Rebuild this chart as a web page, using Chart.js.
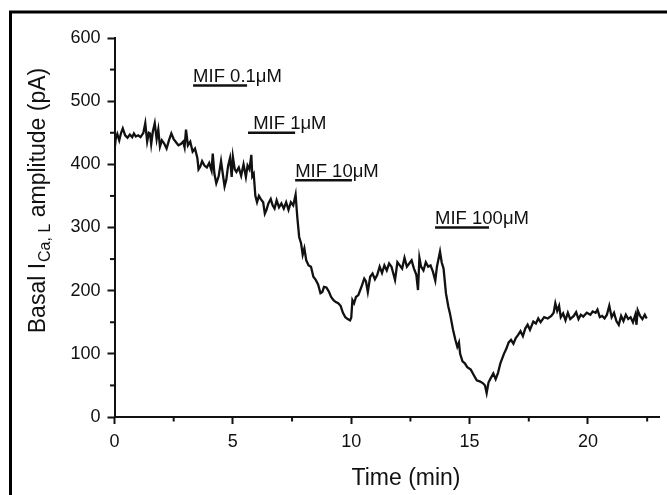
<!DOCTYPE html>
<html><head><meta charset="utf-8">
<script src="https://cdn.jsdelivr.net/npm/chart.js@4"></script>
<style>html,body{margin:0;padding:0;background:#fff;}#wrap{width:667px;height:495px;position:relative;}</style>
</head><body><div id="wrap"><canvas id="c" width="667" height="495"></canvas></div>
<script>
// ---- data ----
const timeMin = [0.00,0.05,0.12,0.20,0.28,0.35,0.45,0.55,0.65,0.75,0.82,0.90,1.00,1.10,1.22,1.30,1.38,1.45,1.50,1.55,1.62,1.70,1.78,1.85,1.92,2.00,2.10,2.20,2.30,2.40,2.50,2.60,2.70,2.80,2.90,2.96,3.02,3.10,3.20,3.30,3.40,3.50,3.55,3.62,3.70,3.80,3.90,4.00,4.10,4.15,4.22,4.30,4.40,4.50,4.60,4.65,4.72,4.80,4.88,4.95,5.00,5.08,5.15,5.25,5.35,5.45,5.55,5.62,5.70,5.78,5.82,5.88,5.95,6.02,6.10,6.18,6.28,6.35,6.42,6.50,6.60,6.68,6.76,6.85,6.95,7.05,7.15,7.25,7.35,7.45,7.55,7.65,7.72,7.80,7.88,7.95,8.02,8.10,8.20,8.30,8.40,8.50,8.60,8.70,8.78,8.85,8.95,9.05,9.15,9.25,9.35,9.45,9.55,9.65,9.75,9.85,9.95,10.00,10.05,10.12,10.20,10.30,10.42,10.55,10.62,10.70,10.80,10.90,11.00,11.10,11.20,11.30,11.40,11.50,11.60,11.70,11.85,11.95,12.05,12.15,12.25,12.35,12.45,12.55,12.65,12.75,12.82,12.88,12.95,13.05,13.15,13.25,13.35,13.45,13.55,13.62,13.75,13.82,13.90,14.00,14.10,14.17,14.30,14.40,14.48,14.55,14.60,14.70,14.80,14.90,15.05,15.15,15.30,15.45,15.58,15.65,15.72,15.80,15.90,16.00,16.10,16.20,16.30,16.45,16.55,16.65,16.75,16.85,16.95,17.05,17.15,17.25,17.35,17.45,17.55,17.69,17.80,17.90,18.00,18.15,18.30,18.45,18.55,18.62,18.70,18.78,18.85,18.95,19.05,19.15,19.25,19.40,19.50,19.60,19.70,19.80,19.95,20.10,20.20,20.32,20.40,20.50,20.60,20.70,20.80,20.90,21.00,21.10,21.20,21.30,21.40,21.50,21.60,21.70,21.80,21.90,22.00,22.05,22.10,22.20,22.30,22.40,22.48];
const currentPA = [422,440,448,438,450,457,446,442,447,443,449,444,446,443,450,465,436,450,449,432,452,465,440,455,428,438,433,425,438,449,440,435,430,432,436,427,455,430,436,420,425,410,392,396,405,398,395,402,390,417,385,370,381,405,378,365,375,398,410,380,412,392,388,395,382,400,380,398,392,415,381,385,350,340,350,345,340,322,328,338,345,335,330,343,332,338,330,340,328,340,335,352,317,285,275,257,267,248,240,238,222,217,210,196,198,206,205,199,190,185,182,180,176,165,158,155,153,157,185,180,190,193,205,219,215,198,222,227,218,225,238,228,240,232,243,238,217,245,240,235,252,238,243,248,235,225,201,252,238,232,245,238,240,230,216,238,262,245,235,196,175,164,138,122,111,118,100,88,85,79,75,68,58,56,53,50,38,55,62,69,60,70,85,100,108,118,122,116,125,130,136,128,140,146,138,151,148,156,150,158,156,160,165,180,168,176,158,164,153,165,155,160,166,155,162,159,165,162,167,165,170,158,160,156,162,176,158,165,152,146,160,152,162,155,158,150,162,146,169,160,155,162,156];
const xTicks = [0,5,10,15,20];
const xMinorTicks = [2.5,7.5,12.5,17.5,22.5];
const yTicks = [0,100,200,300,400,500,600];
const yMinorTicks = [50,150,250,350,450,550];
const drugLabels = ['MIF 0.1\u03bcM',' MIF 1\u03bcM','MIF 10\u03bcM','MIF 100\u03bcM'];
const drugStart = [3.32,5.64,7.63,13.54];
const drugEnd = [5.60,7.63,10.03,15.82];
const drugLevel = [525,450,375,300];
const xTitle = 'Time (min)';
const yTitleMain = 'Basal I';
const yTitleSub = 'Ca, L';
const yTitleRest = ' amplitude (pA)';

// ---- styling ----
const FONT = '"Liberation Sans", Arial, sans-serif';
const INK = '#111';

const traceData = timeMin.map((t, i) => ({x: t, y: currentPA[i]}));
const barSets = drugLabels.map((lab, i) => ({
  label: lab,
  data: [{x: drugStart[i], y: drugLevel[i]}, {x: drugEnd[i], y: drugLevel[i]}],
  borderColor: INK, borderWidth: 2.5, pointRadius: 0, fill: false
}));

const decor = {
  id: 'decor',
  beforeDraw(chart) {
    const ctx = chart.ctx;
    ctx.save();
    ctx.fillStyle = '#fff';
    ctx.fillRect(0, 0, chart.width, chart.height);
    ctx.strokeStyle = '#000';
    ctx.lineWidth = 3;
    ctx.beginPath();
    ctx.moveTo(10.5, 495);
    ctx.lineTo(10.5, 12);
    ctx.lineTo(667, 12);
    ctx.stroke();
    ctx.restore();
  },
  afterDraw(chart) {
    const ctx = chart.ctx;
    const xs = chart.scales.x, ys = chart.scales.y;
    const area = chart.chartArea;
    ctx.save();
    // minor ticks
    ctx.strokeStyle = INK; ctx.lineWidth = 2;
    xMinorTicks.forEach(v => {
      const px = xs.getPixelForValue(v);
      ctx.beginPath(); ctx.moveTo(px, area.bottom); ctx.lineTo(px, area.bottom + 4.5); ctx.stroke();
    });
    yMinorTicks.forEach(v => {
      const py = ys.getPixelForValue(v);
      ctx.beginPath(); ctx.moveTo(area.left, py); ctx.lineTo(area.left - 4.5, py); ctx.stroke();
    });
    // drug labels
    ctx.fillStyle = INK;
    ctx.font = '18.5px ' + FONT;
    ctx.textBaseline = 'alphabetic';
    ctx.textAlign = 'left';
    drugLabels.forEach((lab, i) => {
      ctx.fillText(lab, xs.getPixelForValue(drugStart[i]), ys.getPixelForValue(drugLevel[i]) - 3.5);
    });
    // x title
    ctx.font = '23px ' + FONT;
    ctx.textAlign = 'center';
    ctx.fillText(xTitle, 406, 485);
    // y title with subscript
    ctx.translate(44.5, 201);
    ctx.rotate(-Math.PI / 2);
    ctx.textAlign = 'left';
    const mainF = '23px ' + FONT, subF = '16px ' + FONT;
    ctx.font = mainF; const w1 = ctx.measureText(yTitleMain).width; const w3 = ctx.measureText(yTitleRest).width;
    ctx.font = subF; const w2 = ctx.measureText(yTitleSub).width;
    let x0 = -(w1 + w2 + w3) / 2;
    ctx.font = mainF; ctx.fillText(yTitleMain, x0, 0);
    ctx.font = subF; ctx.fillText(yTitleSub, x0 + w1 + 1, 5);
    ctx.font = mainF; ctx.fillText(yTitleRest, x0 + w1 + w2 + 1, 0);
    ctx.restore();
  }
};

new Chart(document.getElementById('c'), {
  type: 'line',
  data: {
    datasets: [{
      label: 'trace', data: traceData, borderColor: INK, borderWidth: 2.3,
      pointRadius: 0, fill: false, tension: 0
    }, ...barSets]
  },
  options: {
    responsive: false, animation: false, devicePixelRatio: 1,
    layout: {padding: {left: 0, top: 38, right: 8, bottom: 0}},
    plugins: {legend: {display: false}, tooltip: {enabled: false}, title: {display: false}},
    scales: {
      x: {
        type: 'linear', min: 0, max: 23,
        afterBuildTicks: s => { s.ticks = xTicks.map(v => ({value: v})); },
        afterFit: s => { s.height = 78; },
        grid: {drawOnChartArea: false, drawTicks: true, tickLength: 7, tickWidth: 2, tickColor: INK},
        border: {display: true, width: 2, color: INK},
        ticks: {font: {family: FONT, size: 18}, color: INK, padding: 7, maxRotation: 0, includeBounds: false}
      },
      y: {
        type: 'linear', min: 0, max: 600,
        afterBuildTicks: s => { s.ticks = yTicks.map(v => ({value: v})); },
        afterFit: s => { s.width = 114.5; },
        grid: {drawOnChartArea: false, drawTicks: true, tickLength: 7, tickWidth: 2, tickColor: INK},
        border: {display: true, width: 2, color: INK},
        ticks: {font: {family: FONT, size: 18}, color: INK, padding: 7, includeBounds: false}
      }
    }
  },
  plugins: [decor]
});
</script></body></html>
